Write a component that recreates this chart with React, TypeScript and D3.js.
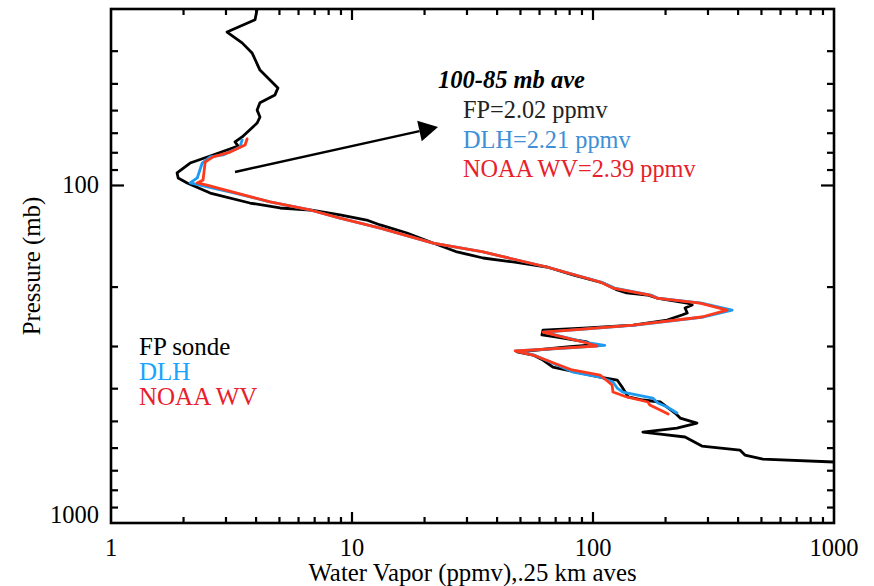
import React from "react";
import * as d3 from "d3";

// ---------- data (water vapour in ppmv, pressure in mb) ----------
const fpWater = [4.04, 3.96, 3.03, 3.5, 3.85, 4.15, 4.48, 4.93, 4.79, 4.15, 4.04, 4.15, 4.04, 3.5, 3.27, 3.37, 2.65, 2.13, 1.88, 1.9, 2.07, 2.58, 3.77, 5.03, 6.7, 8.92, 11.5, 13.1, 16.9, 21.7, 27.3, 35.0, 46.6, 64.4, 82.6, 110, 126, 138, 168, 184, 246, 258, 241, 246, 234, 203, 147, 91, 62, 61.4, 70.9, 94.4, 99.1, 78, 48.4, 56.4, 62, 68.2, 88.3, 107, 126, 132, 140, 161, 190, 203, 219, 230, 270, 223, 161, 190, 241, 283, 407, 427, 507, 1000];
const fpPressure = [30, 32.3, 35.1, 37.8, 40.5, 45.5, 48.0, 51.4, 53.9, 56.9, 59.8, 62.7, 65.3, 71.8, 74.3, 76.4, 81.2, 85.8, 91.8, 95.0, 98.3, 105.3, 112.7, 116.6, 118.2, 122.3, 126.6, 130.9, 138.3, 148.1, 157.4, 164.0, 168.5, 174.4, 184.2, 194.5, 204, 208.2, 211.1, 215.5, 223, 226, 230.7, 238.7, 242, 250.4, 259.1, 264.5, 268.1, 277.3, 281.2, 290.9, 296.9, 301, 311.4, 317.9, 328.9, 345.1, 359.4, 369.4, 377, 395.5, 423.3, 432.1, 438, 453.3, 472.2, 488.7, 505.7, 523.2, 537.6, 545.1, 556.2, 591.5, 607.9, 629, 646.4, 659.7];

const dlhWater = [3.5, 3.43, 2.92, 2.58, 2.39, 2.28, 2.13, 2.34, 3.27, 4.57, 6.7, 8.92, 13.1, 21.7, 35.0, 64.4, 108, 123, 174, 186, 282, 378, 288, 150, 92, 62.5, 96, 112, 80, 48, 57, 82.6, 107, 121, 126, 133, 177, 186, 203, 223];
const dlhPressure = [73.3, 76.9, 81.2, 82.3, 85.8, 95.0, 98.3, 99.7, 105.3, 111.9, 118.2, 124.9, 133.7, 148.1, 157.4, 174.4, 193.2, 201.3, 211.1, 215.5, 223, 233.9, 245.3, 259.1, 266.3, 271.8, 292.9, 297.5, 303, 309.3, 317.9, 357, 369.4, 382.2, 398.2, 409.2, 426.3, 441, 453.3, 472.2];

const noaaWater = [3.67, 3.6, 3.12, 2.65, 2.46, 2.41, 2.28, 2.5, 3.33, 4.57, 6.7, 8.92, 13.1, 21.7, 35.0, 64.4, 107, 121, 172, 184, 278, 360, 283, 147, 91, 62, 94.4, 104, 78, 47.5, 56.4, 81.8, 107, 120, 121, 138, 169, 172, 190, 205];
const noaaPressure = [72.8, 75.9, 79.6, 82.3, 85.2, 96.3, 98.3, 99.7, 105.3, 111.9, 118.2, 124.9, 133.7, 148.1, 157.4, 174.4, 193.2, 201.3, 211.1, 215.5, 223, 233.9, 245.3, 259.1, 266.3, 271.8, 292.9, 298.9, 303, 309.3, 317.9, 352.1, 364.4, 390.1, 409.2, 423.3, 438, 447.1, 462.6, 475.5];

const xMajorTicks = [1, 10, 100, 1000];
const xTickLabels = ["1", "10", "100", "1000"];
const yMajorTicks = [100, 1000];
const yTickLabels = ["100", "1000"];
const legendNames = ["FP sonde", "DLH", "NOAA WV"];
const annotTitle = "100-85 mb ave";
const annotLines = ["FP=2.02 ppmv", "DLH=2.21 ppmv", "NOAA WV=2.39 ppmv"];
// arrow in data coordinates [water, pressure]
const arrowFrom = [3.27, 91.2];
const arrowTo = [22.75, 67.1];

// ---------- layout ----------
const W = 874;
const H = 586;
const L = 111, R = 834, T = 9, B = 523;
const FONT = "'Liberation Serif', 'Times New Roman', serif";

export default function App() {
  const x = d3.scaleLog().domain([1, 1000]).range([L, R]);
  const y = d3.scaleLog().domain([30, 1000]).range([T, B]);

  const minorX: number[] = [];
  [1, 10, 100].forEach((d) => { for (let k = 2; k <= 9; k++) minorX.push(d * k); });
  const minorY: number[] = [];
  [10, 100].forEach((d) => { for (let k = 2; k <= 9; k++) { const v = d * k; if (v > 30 && v < 1000 && v !== 100) minorY.push(v); } });

  const line = d3.line<[number, number]>().x((d) => x(d[0])).y((d) => y(d[1]));
  const mk = (w: number[], p: number[]) => w.map((v, i) => [v, p[i]] as [number, number]);

  const series = [
    { data: mk(fpWater, fpPressure), color: "#000000" },
    { data: mk(dlhWater, dlhPressure), color: "#1e9af0" },
    { data: mk(noaaWater, noaaPressure), color: "#ff3a1c" },
  ];
  const legendColors = ["#000000", "#1aa3ff", "#e8202c"];
  const annotColors = ["#222222", "#3d8fd6", "#e8202c"];

  const ax1 = x(arrowFrom[0]), ay1 = y(arrowFrom[1]);
  const ax2 = x(arrowTo[0]), ay2 = y(arrowTo[1]);
  const ang = Math.atan2(ay2 - ay1, ax2 - ax1);
  const hl = 19, hw = 10.5;
  const bx = ax2 - hl * Math.cos(ang), by = ay2 - hl * Math.sin(ang);
  const head = `M${ax2},${ay2} L${bx + hw * Math.sin(ang)},${by - hw * Math.cos(ang)} L${bx - hw * Math.sin(ang)},${by + hw * Math.cos(ang)} Z`;

  return (
    <svg width={W} height={H} style={{ position: "absolute", left: 0, top: 0, background: "#fff" }} fontFamily={FONT}>
      <defs>
        <clipPath id="plotclip">
          <rect x={L} y={T} width={R - L} height={B - T} />
        </clipPath>
      </defs>
      <rect width={W} height={H} fill="#fff" />
      <g clipPath="url(#plotclip)" fill="none" strokeWidth={2.8} strokeLinejoin="round" strokeLinecap="round">
        {series.map((s, i) => (
          <path key={i} d={line(s.data) || ""} stroke={s.color} />
        ))}
      </g>
      {/* arrow */}
      <line x1={ax1} y1={ay1} x2={bx} y2={by} stroke="#000" strokeWidth={2.5} />
      <path d={head} fill="#000" />

      {/* frame */}
      <rect x={L} y={T} width={R - L} height={B - T} fill="none" stroke="#000" strokeWidth={2.6} />
      <g stroke="#000" strokeWidth={2.2}>
        {xMajorTicks.slice(1, -1).map((v) => (
          <g key={"xm" + v}>
            <line x1={x(v)} x2={x(v)} y1={B} y2={B - 11} />
            <line x1={x(v)} x2={x(v)} y1={T} y2={T + 11} />
          </g>
        ))}
        {minorX.map((v) => (
          <g key={"xn" + v}>
            <line x1={x(v)} x2={x(v)} y1={B} y2={B - 6} />
            <line x1={x(v)} x2={x(v)} y1={T} y2={T + 6} />
          </g>
        ))}
        {yMajorTicks.filter((v) => v < 1000).map((v) => (
          <g key={"ym" + v}>
            <line x1={L} x2={L + 13} y1={y(v)} y2={y(v)} />
            <line x1={R} x2={R - 13} y1={y(v)} y2={y(v)} />
          </g>
        ))}
        {minorY.map((v) => (
          <g key={"yn" + v}>
            <line x1={L} x2={L + 7} y1={y(v)} y2={y(v)} />
            <line x1={R} x2={R - 7} y1={y(v)} y2={y(v)} />
          </g>
        ))}
      </g>

      {/* tick labels */}
      <g fontSize={24.5} fill="#000">
        {xMajorTicks.map((v, i) => (
          <text key={"xl" + v} x={x(v)} y={B + 33} textAnchor="middle">{xTickLabels[i]}</text>
        ))}
        {yMajorTicks.map((v, i) => (
          <text key={"yl" + v} x={L - 12} y={Math.min(y(v) + 8, B)} textAnchor="end">{yTickLabels[i]}</text>
        ))}
      </g>

      {/* axis titles */}
      <text x={(L + R) / 2} y={581} textAnchor="middle" fontSize={24.8}>Water Vapor (ppmv),.25 km aves</text>
      <text transform={`translate(40,${(T + B) / 2}) rotate(-90)`} textAnchor="middle" fontSize={24.8}>Pressure (mb)</text>

      {/* legend */}
      <g fontSize={25}>
        {legendNames.map((n, i) => (
          <text key={n} x={139} y={355 + i * 25} fill={legendColors[i]}>{n}</text>
        ))}
      </g>

      {/* annotation */}
      <text x={438} y={88} fontSize={24.5} fontWeight="bold" fontStyle="italic">{annotTitle}</text>
      <g fontSize={24.3}>
        {annotLines.map((t, i) => (
          <text key={t} x={463} y={118 + i * 29.5} fill={annotColors[i]}>{t}</text>
        ))}
      </g>
    </svg>
  );
}
